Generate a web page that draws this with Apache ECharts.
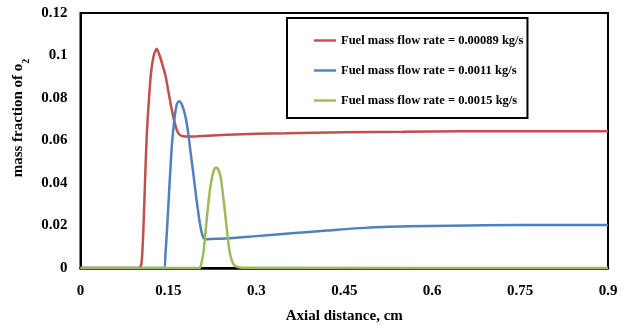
<!DOCTYPE html>
<html>
<head>
<meta charset="utf-8">
<script src="https://cdn.jsdelivr.net/npm/echarts@6/dist/echarts.min.js"></script>
<style>
html,body{margin:0;padding:0;background:#fff;}
#chart{width:628px;height:325px;}
</style>
</head>
<body>
<div id="chart"></div>
<script>
// ---- data ----
const seriesNames = [
  'Fuel mass flow rate = 0.00089 kg/s',
  'Fuel mass flow rate = 0.0011 kg/s',
  'Fuel mass flow rate = 0.0015 kg/s'
];
const redX = [0, 0.100, 0.104, 0.107, 0.110, 0.113, 0.116, 0.120, 0.125, 0.130, 0.135, 0.140, 0.145, 0.150, 0.155, 0.160, 0.165, 0.170, 0.175, 0.185, 0.20, 0.25, 0.30, 0.35, 0.45, 0.55, 0.65, 0.75, 0.9];
const redY = [0, 0, 0.002, 0.016, 0.040, 0.062, 0.076, 0.091, 0.100, 0.1032, 0.1000, 0.0955, 0.0905, 0.0830, 0.0755, 0.0690, 0.0645, 0.0625, 0.0620, 0.0619, 0.0620, 0.0627, 0.0632, 0.0634, 0.0639, 0.0641, 0.0643, 0.0643, 0.0644];
const blueX = [0, 0.142, 0.145, 0.148, 0.152, 0.156, 0.160, 0.164, 0.168, 0.172, 0.176, 0.180, 0.184, 0.188, 0.192, 0.196, 0.200, 0.204, 0.208, 0.212, 0.22, 0.255, 0.30, 0.36, 0.42, 0.49, 0.56, 0.63, 0.75, 0.9];
const blueY = [0, 0, 0.007, 0.020, 0.040, 0.058, 0.0695, 0.0767, 0.0785, 0.0775, 0.0745, 0.0700, 0.0630, 0.0540, 0.0455, 0.0365, 0.0280, 0.0205, 0.0155, 0.0135, 0.0136, 0.0140, 0.0150, 0.0163, 0.0176, 0.0190, 0.0196, 0.0199, 0.0202, 0.0202];
const greenX = [0, 0.203, 0.206, 0.209, 0.212, 0.215, 0.218, 0.221, 0.224, 0.227, 0.230, 0.233, 0.236, 0.239, 0.242, 0.245, 0.248, 0.251, 0.254, 0.257, 0.261, 0.266, 0.275, 0.9];
const greenY = [0, 0, 0.002, 0.006, 0.013, 0.022, 0.030, 0.037, 0.042, 0.0455, 0.0472, 0.0472, 0.0458, 0.0430, 0.0370, 0.0300, 0.0225, 0.0150, 0.0085, 0.0045, 0.0018, 0.0006, 0.0001, 0];
const xTicks = [0, 0.15, 0.3, 0.45, 0.6, 0.75, 0.9];
const yTicks = [0, 0.02, 0.04, 0.06, 0.08, 0.1, 0.12];
const xTitle = 'Axial distance, cm';
const yTitleMain = 'mass fraction of o';
const yTitleSub = '2';

const colors = ['#C0504D', '#4F81BD', '#9BBB59'];
const FONT = 'Liberation Serif';

function pairs(xs, ys) { return xs.map((x, i) => [x, ys[i]]); }

const chart = echarts.init(document.getElementById('chart'), null, {renderer: 'canvas'});
const lineSeries = [[redX, redY], [blueX, blueY], [greenX, greenY]].map((d, i) => ({
  name: seriesNames[i],
  type: 'line',
  data: pairs(d[0], d[1]),
  symbol: 'none',
  smooth: 0.25,
  lineStyle: {color: colors[i], width: 2.5},
  itemStyle: {color: colors[i]},
  z: 3 + i
}));

chart.setOption({
  animation: false,
  backgroundColor: '#fff',
  grid: {left: 80.5, right: 20, top: 13, bottom: 57, show: true, borderColor: '#000', borderWidth: 2, backgroundColor: 'transparent', outerBoundsMode: 'none', containLabel: false},
  xAxis: {
    type: 'value', min: xTicks[0], max: xTicks[xTicks.length - 1], interval: xTicks[1] - xTicks[0],
    splitLine: {show: false}, axisTick: {show: false},
    axisLine: {lineStyle: {color: '#000', width: 2.5}},
    axisLabel: {color: '#000', fontFamily: FONT, fontWeight: 'bold', fontSize: 15, margin: 16},
    name: xTitle, nameLocation: 'middle', nameGap: 41,
    nameTextStyle: {color: '#000', fontFamily: FONT, fontWeight: 'bold', fontSize: 15}
  },
  yAxis: {
    type: 'value', min: yTicks[0], max: yTicks[yTicks.length - 1], interval: yTicks[1] - yTicks[0],
    splitLine: {show: false}, axisTick: {show: false},
    axisLine: {lineStyle: {color: '#000', width: 2}},
    axisLabel: {color: '#000', fontFamily: FONT, fontWeight: 'bold', fontSize: 15, margin: 13}
  },
  legend: {
    orient: 'vertical', left: 287, top: 18,
    padding: [16, 4, 11, 27], itemGap: 17, itemWidth: 22, itemHeight: 14,
    borderColor: '#000', borderWidth: 2,
    icon: 'path://M0,0H22V2.4H0Z',
    data: seriesNames,
    textStyle: {color: '#000', fontFamily: FONT, fontWeight: 'bold', fontSize: 12.5}
  },
  graphic: [{
    type: 'text', x: 19, y: 118, rotation: Math.PI / 2,
    style: {
      text: '{a|' + yTitleMain + '}{s|' + yTitleSub + '}',
      align: 'center', verticalAlign: 'middle',
      rich: {
        a: {fontFamily: FONT, fontWeight: 'bold', fontSize: 15, lineHeight: 16, verticalAlign: 'top', fill: '#000', color: '#000'},
        s: {fontFamily: FONT, fontWeight: 'bold', fontSize: 10, lineHeight: 10, padding: [10, 0, 0, 0], verticalAlign: 'top', fill: '#000', color: '#000'}
      }
    }
  }],
  series: lineSeries
});
</script>
</body>
</html>
